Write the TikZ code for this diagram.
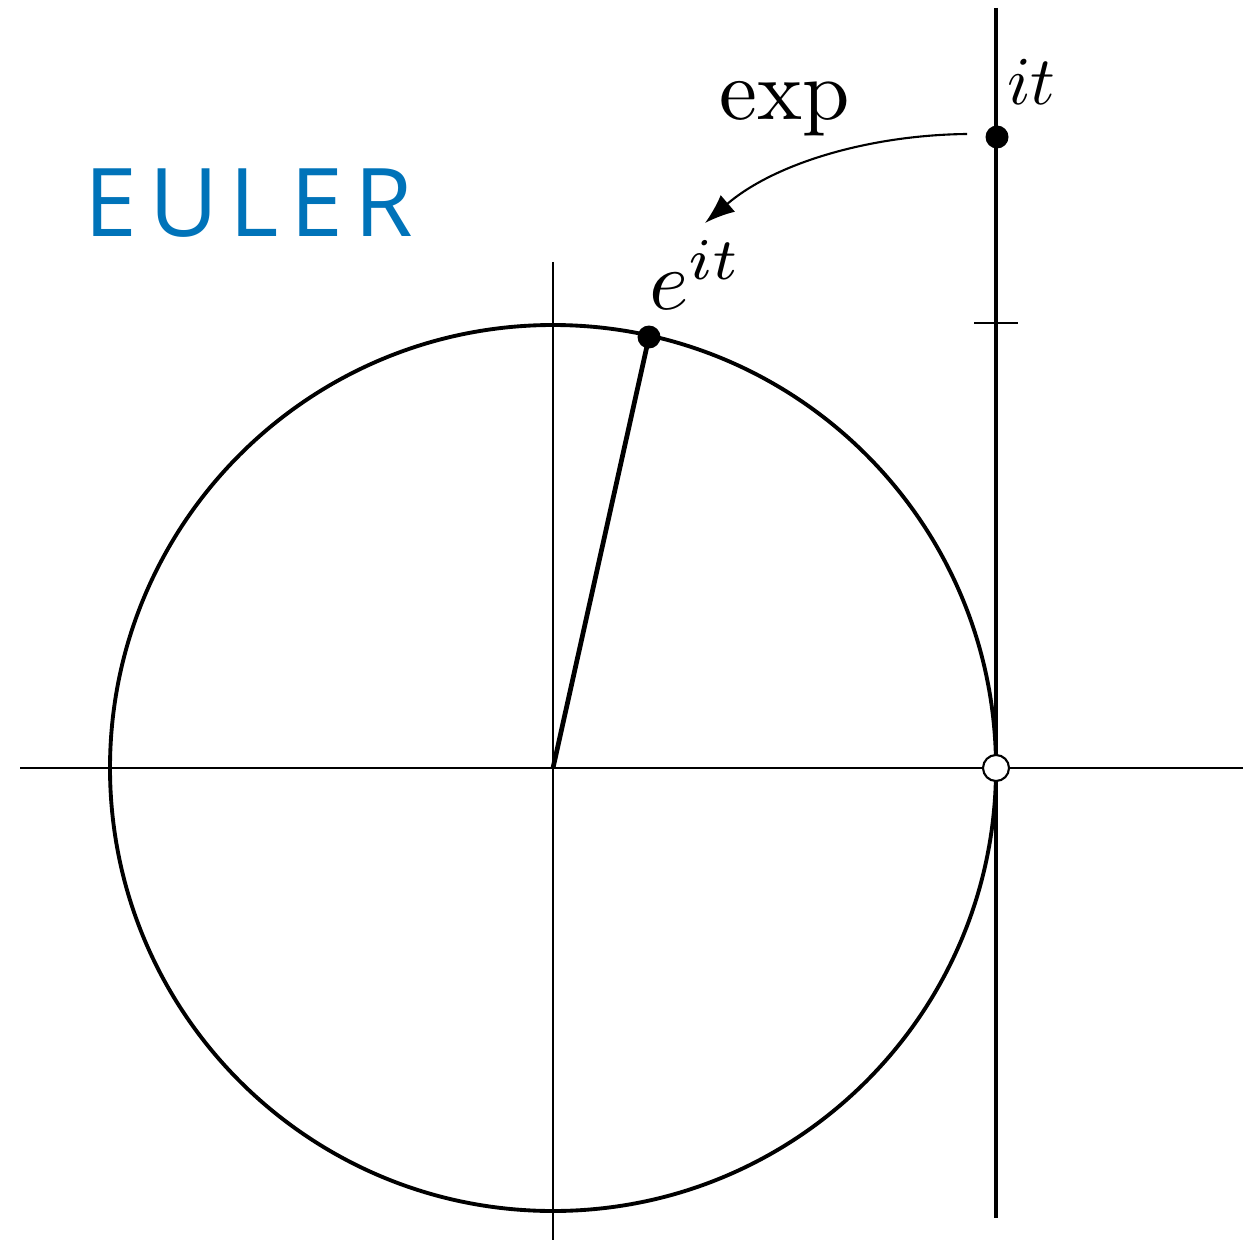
\documentclass[tikz,border=0pt]{standalone}
\usepackage{fontspec}
\newfontfamily\eulerfont[LetterSpace=12]{Open Sans}
\usetikzlibrary{arrows.meta}
\definecolor{eulerblue}{RGB}{0,115,185}
\begin{document}
\begin{tikzpicture}[x=0.02cm,y=-0.02cm,
  thinaxis/.style={line width=1pt},
  curve/.style={line width=2.2pt},
  thickline/.style={line width=2.4pt},
  dotfill/.style={circle,fill=black,inner sep=0pt,minimum size=0.46cm},
  dotopen/.style={circle,draw=black,fill=white,line width=1.2pt,inner sep=0pt,minimum size=0.52cm},
  lab/.style={inner sep=0pt,anchor=base west}]
\useasboundingbox (0,0) rectangle (1253,1243);
% coordinates
\coordinate (O) at (553,768);
\coordinate (hl) at (20,768);
\coordinate (hr) at (1243,768);
\coordinate (vt) at (553,262);
\coordinate (vb) at (553,1240);
\coordinate (lt) at (996,8);
\coordinate (lb) at (996,1218);
\coordinate (tl) at (974,323);
\coordinate (tr) at (1018,323);
% axes
\draw[thinaxis] (hl) -- (hr);
\draw[thinaxis] (vt) -- (vb);
% circle
\draw[curve] (O) circle[radius=443];
% tangent line
\draw[thickline] (lt) -- (lb);
\draw[thinaxis] (tl) -- (tr);
% points
\draw[line width=2.7pt] (O) -- (649,337);
\node[dotfill] (P) at (649,337) {};
\node[dotfill] (Q) at (997,137) {};
\node[dotopen] (one) at (996,768) {};
% arrow
\coordinate (as) at (967,134);
\coordinate (ae) at (705,223);
\draw[line width=1.2pt,-{Latex[length=0.6cm,width=0.44cm]}] (as) .. controls (870,135) and (775,163) .. (ae);
% labels
\node[lab,scale=4.85] (exp) at (718,120) {$\exp$};
\node[lab,scale=3.9] (it) at (1006,105) {$it$};
\node[lab,scale=4.8] (eit) at (648,310) {$e^{it}$};
\node[inner sep=0pt,text=eulerblue,font=\eulerfont\fontsize{54}{60}\selectfont] (euler) at (249,203) {EULER};
\end{tikzpicture}
\end{document}
